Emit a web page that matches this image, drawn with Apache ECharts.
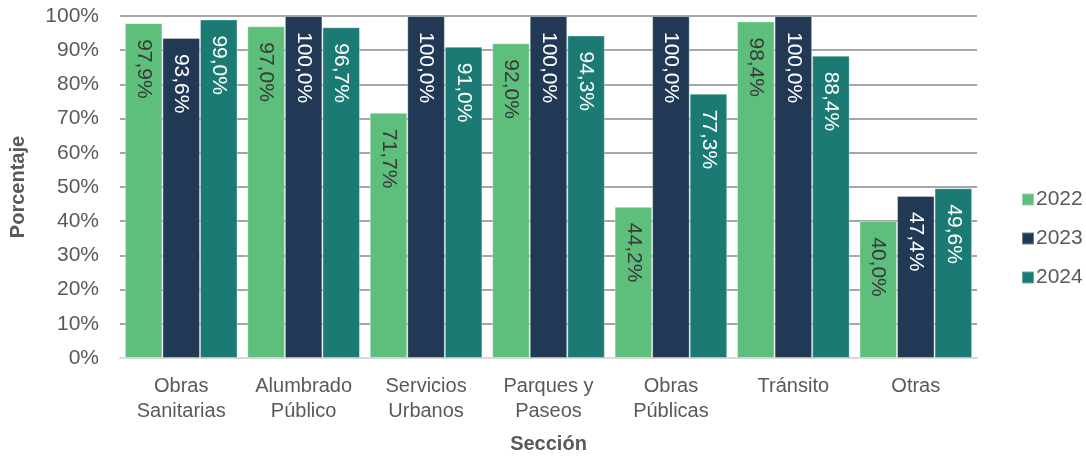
<!DOCTYPE html>
<html>
<head>
<meta charset="utf-8">
<script src="https://cdn.jsdelivr.net/npm/echarts@6/dist/echarts.min.js"></script>
<style>
  html, body { margin: 0; padding: 0; background: #fff; }
  #main { width: 1086px; height: 459px; }
</style>
</head>
<body>
<div id="main"></div>
<script>
  // datos
  const secciones = ['Obras\nSanitarias', 'Alumbrado\nPúblico', 'Servicios\nUrbanos', 'Parques y\nPaseos', 'Obras\nPúblicas', 'Tránsito', 'Otras'];
  const v2022 = [97.9, 97.0, 71.7, 92.0, 44.2, 98.4, 40.0];
  const v2023 = [93.6, 100, 100, 100, 100, 100, 47.4];
  const v2024 = [99.0, 96.7, 91.0, 94.3, 77.3, 88.4, 49.6];

  const font = 'Liberation Sans, Arial, sans-serif';
  const myChart = echarts.init(document.getElementById('main'));

  function serie(name, data, color, txt) {
    return {
      name: name,
      type: 'bar',
      data: data,
      barGap: '0%',
      barCategoryGap: '8%',
      itemStyle: { color: color, borderColor: 'rgba(255,255,255,0.35)', borderWidth: 1 },
      label: {
        show: true,
        position: 'insideTop',
        distance: 16,
        rotate: -90,
        align: 'left',
        verticalAlign: 'middle',
        color: txt,
        fontSize: 21,
        fontFamily: font,
        formatter: p => p.value.toFixed(1).replace('.', ',') + '%'
      }
    };
  }

  const option = {
    animation: false,
    textStyle: { fontFamily: font },
    grid: { left: 117, right: 109, top: 16, bottom: 99 },
    legend: {
      orient: 'vertical',
      left: 1016,
      top: 184,
      itemWidth: 12,
      itemHeight: 12,
      itemGap: 18,
      icon: 'rect',
      textStyle: { fontSize: 21, color: '#595959', fontFamily: font, padding: [0, 0, 0, -3] }
    },
    xAxis: {
      type: 'category',
      data: secciones,
      name: 'Sección',
      nameLocation: 'middle',
      nameGap: 76,
      nameTextStyle: { fontSize: 20, fontWeight: 'bold', color: '#595959' },
      axisLine: { lineStyle: { color: '#d9d9d9', width: 2 } },
      axisTick: { show: false },
      axisLabel: { interval: 0, fontSize: 20, color: '#595959', lineHeight: 25, margin: 16 }
    },
    yAxis: {
      type: 'value',
      min: 0,
      max: 100,
      interval: 10,
      name: 'Porcentaje',
      nameLocation: 'middle',
      nameGap: 92,
      nameTextStyle: { fontSize: 20, fontWeight: 'bold', color: '#595959' },
      axisLabel: { fontSize: 21, color: '#595959', formatter: '{value}%', margin: 21 },
      splitLine: { lineStyle: { color: '#a6a6a6', width: 2 } }
    },
    series: [
      serie('2022', v2022, '#5dbf7b', '#3a3a3a'),
      serie('2023', v2023, '#213955', '#ffffff'),
      serie('2024', v2024, '#1b7a73', '#ffffff')
    ]
  };

  option && myChart.setOption(option);
</script>
</body>
</html>
